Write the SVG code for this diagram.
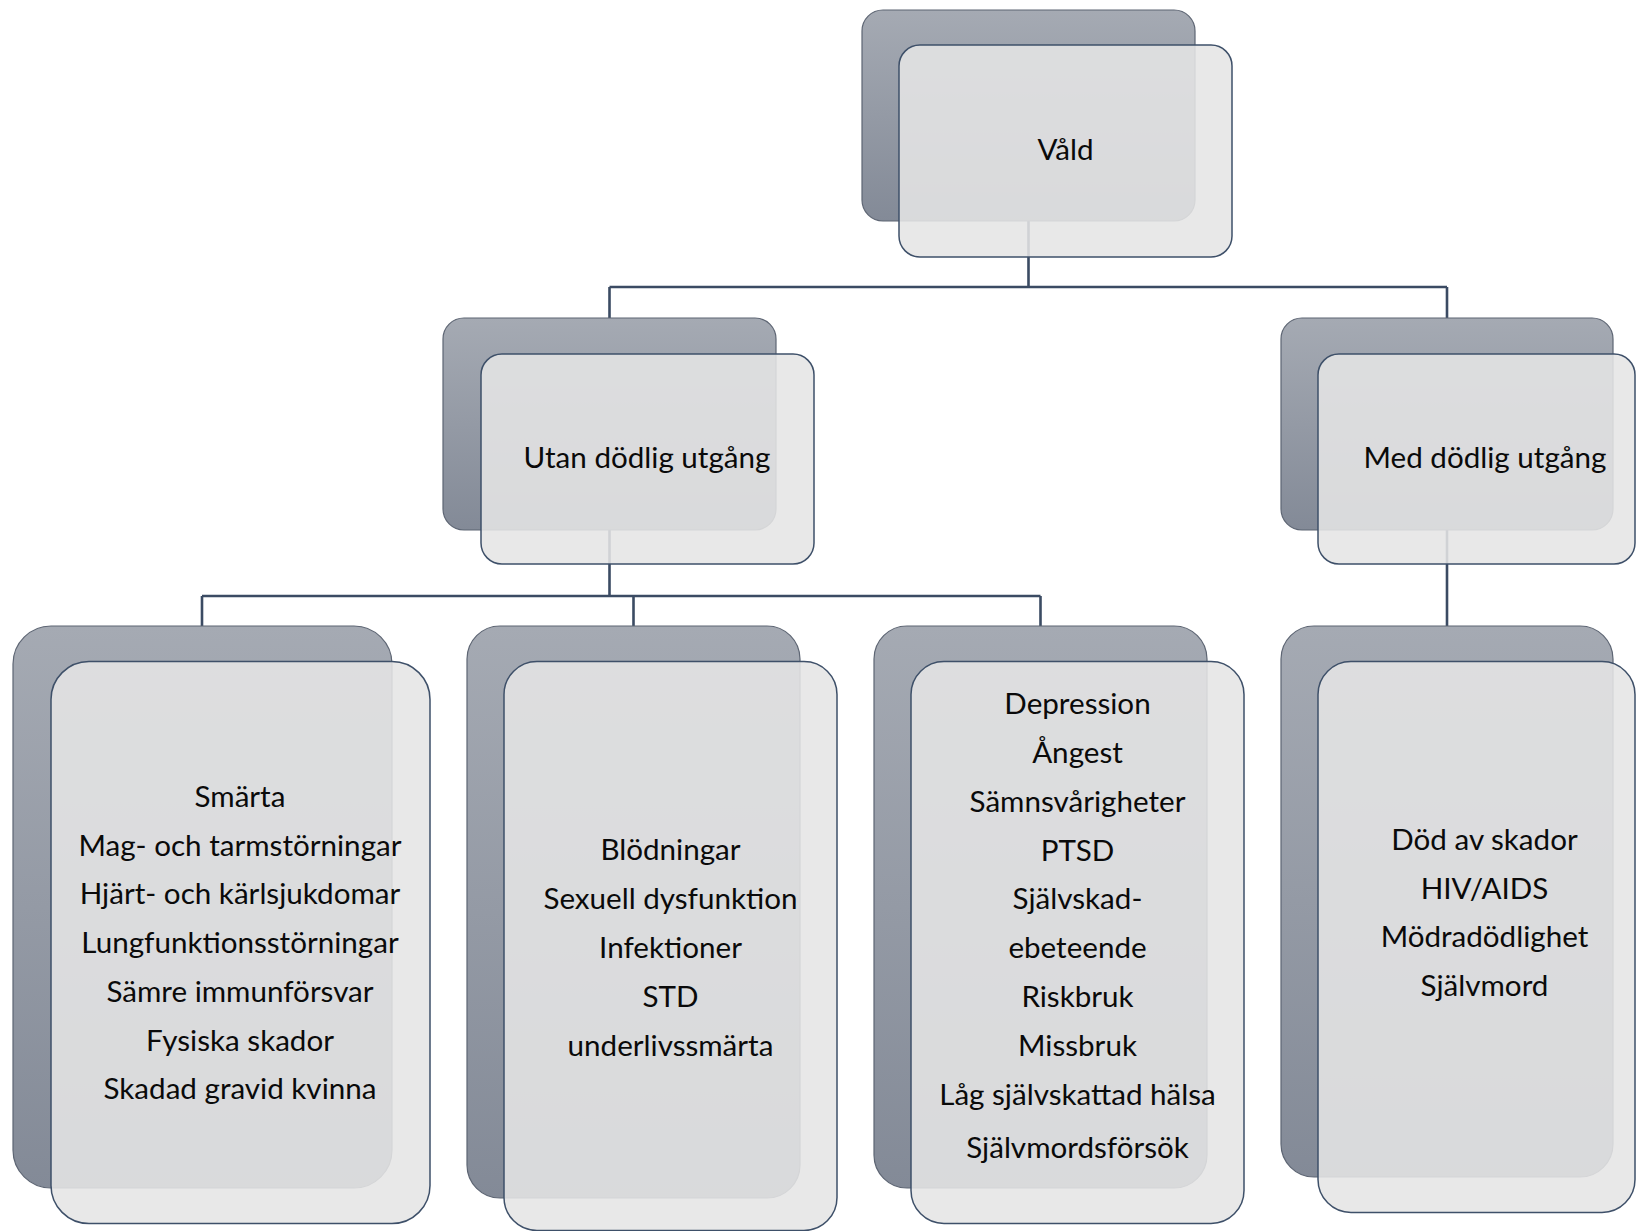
<svg xmlns="http://www.w3.org/2000/svg" width="1636" height="1231" viewBox="0 0 1636 1231">
<defs>
<linearGradient id="backGrad" x1="0" y1="0" x2="0" y2="1">
<stop offset="0" stop-color="#a5aab3"/>
<stop offset="1" stop-color="#838a97"/>
</linearGradient>
<style>
.back{fill:url(#backGrad);stroke:#5d6573;stroke-width:1.2}
.front{fill:#e5e5e5;fill-opacity:0.88;stroke:#3e5069;stroke-width:1.5}
.conn{fill:none;stroke:#3b4b63;stroke-width:2.6}
text{font-family:Lato,"Open Sans","Liberation Sans",sans-serif;font-size:29.6px;fill:#0a0a0a;text-anchor:middle}
</style>
</defs>
<rect width="1636" height="1231" fill="#ffffff"/>
<g id="connectors">
<path class="conn" d="M1028.5 221 V287 M609.5 287 H1447 M609.5 287 V318 M1447 287 V318"/>
<path class="conn" d="M609.5 530 V596 M202 596 H1040.5 M202 596 V626 M633.5 596 V626 M1040.5 596 V626"/>
<path class="conn" d="M1447 530 V626"/>
</g>
<g id="node-vald">
<rect class="back" x="862" y="10" width="333" height="211" rx="21"/>
<rect class="front" x="899" y="45" width="333" height="212" rx="21"/>
<text x="1065.5" y="160">Våld</text>
</g>
<g id="node-utan">
<rect class="back" x="443" y="318" width="333" height="212" rx="21"/>
<rect class="front" x="481" y="354" width="333" height="210" rx="21"/>
<text x="647" y="468">Utan dödlig utgång</text>
</g>
<g id="node-med">
<rect class="back" x="1281" y="318" width="332" height="212" rx="21"/>
<rect class="front" x="1318" y="354" width="317" height="210" rx="21"/>
<text x="1485" y="468">Med dödlig utgång</text>
</g>
<g id="node-fysiska">
<rect class="back" x="13" y="626" width="379" height="562" rx="38"/>
<rect class="front" x="51" y="661.5" width="379" height="562" rx="38"/>
<text x="240" y="807">Smärta</text>
<text x="240" y="856">Mag- och tarmstörningar</text>
<text x="240" y="904">Hjärt- och kärlsjukdomar</text>
<text x="240" y="953">Lungfunktionsstörningar</text>
<text x="240" y="1002">Sämre immunförsvar</text>
<text x="240" y="1051">Fysiska skador</text>
<text x="240" y="1099">Skadad gravid kvinna</text>
</g>
<g id="node-sexuella">
<rect class="back" x="467" y="626" width="333" height="572" rx="33"/>
<rect class="front" x="504" y="661.5" width="333" height="569" rx="33"/>
<text x="670.5" y="860">Blödningar</text>
<text x="670.5" y="909">Sexuell dysfunktion</text>
<text x="670.5" y="958">Infektioner</text>
<text x="670.5" y="1007">STD</text>
<text x="670.5" y="1056">underlivssmärta</text>
</g>
<g id="node-psykiska">
<rect class="back" x="874" y="626" width="333" height="562" rx="33"/>
<rect class="front" x="911" y="661.5" width="333" height="562" rx="33"/>
<text x="1077.5" y="714">Depression</text>
<text x="1077.5" y="763">Ångest</text>
<text x="1077.5" y="812">Sämnsvårigheter</text>
<text x="1077.5" y="861">PTSD</text>
<text x="1077.5" y="909">Självskad-</text>
<text x="1077.5" y="958">ebeteende</text>
<text x="1077.5" y="1007">Riskbruk</text>
<text x="1077.5" y="1056">Missbruk</text>
<text x="1077.5" y="1105">Låg självskattad hälsa</text>
<text x="1077.5" y="1158">Självmordsförsök</text>
</g>
<g id="node-dodliga">
<rect class="back" x="1281" y="626" width="332" height="551" rx="33"/>
<rect class="front" x="1318" y="661.5" width="317" height="551" rx="33"/>
<text x="1484.5" y="850">Död av skador</text>
<text x="1484.5" y="899">HIV/AIDS</text>
<text x="1484.5" y="947">Mödradödlighet</text>
<text x="1484.5" y="996">Självmord</text>
</g>
</svg>
